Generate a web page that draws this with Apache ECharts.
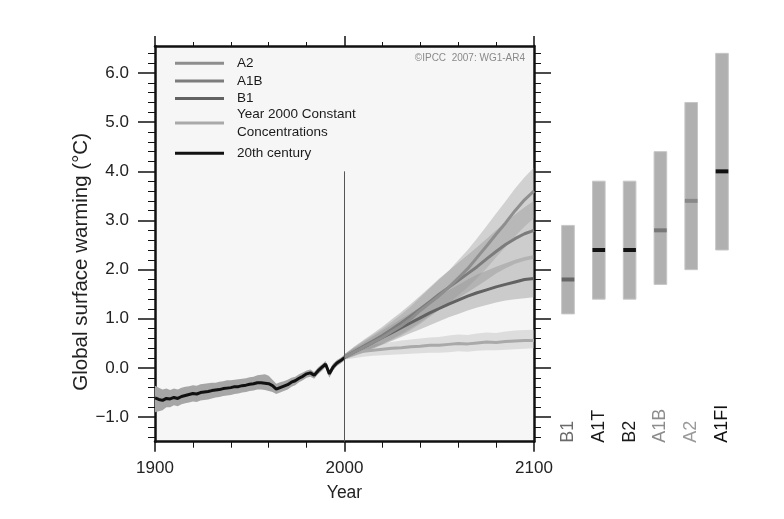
<!DOCTYPE html>
<html>
<head>
<meta charset="utf-8">
<script src="https://cdn.jsdelivr.net/npm/echarts@6/dist/echarts.min.js"></script>
<style>
  html, body { margin: 0; padding: 0; background: #ffffff; }
  #chart { width: 784px; height: 519px; }
</style>
</head>
<body>
<div id="chart"></div>
<script>
// ---------------- data ----------------
const years20 = [1900,1902,1904,1906,1908,1910,1912,1914,1916,1918,
  1920,1922,1924,1926,1928,1930,1932,1934,1936,1938,
  1940,1942,1944,1946,1948,1950,1952,1954,1956,1958,
  1960,1962,1964,1966,1968,1970,1972,1974,1976,1978,
  1980,1982,1984,1986,1988,1990,1992,1994,1996,1998,2000];
const century20 = [-0.61,-0.64,-0.66,-0.62,-0.63,-0.60,-0.62,-0.58,-0.56,-0.54,
  -0.52,-0.53,-0.50,-0.49,-0.48,-0.46,-0.45,-0.44,-0.42,-0.41,
  -0.40,-0.38,-0.38,-0.36,-0.35,-0.33,-0.32,-0.30,-0.30,-0.31,
  -0.32,-0.36,-0.43,-0.40,-0.37,-0.34,-0.29,-0.26,-0.21,-0.17,
  -0.12,-0.10,-0.15,-0.06,0.01,0.08,-0.12,0.02,0.10,0.15,0.21];
const century20Hi = [-0.36,-0.40,-0.44,-0.42,-0.45,-0.42,-0.44,-0.40,-0.38,-0.37,
  -0.35,-0.36,-0.33,-0.32,-0.31,-0.30,-0.30,-0.28,-0.27,-0.25,
  -0.25,-0.24,-0.23,-0.22,-0.21,-0.19,-0.18,-0.15,-0.14,-0.13,
  -0.16,-0.24,-0.32,-0.29,-0.27,-0.24,-0.20,-0.18,-0.13,-0.09,
  -0.05,-0.03,-0.08,0.01,0.07,0.14,-0.04,0.09,0.16,0.21,0.27];
const century20Lo = [-0.90,-0.88,-0.86,-0.80,-0.80,-0.76,-0.78,-0.74,-0.72,-0.70,
  -0.68,-0.69,-0.66,-0.65,-0.64,-0.62,-0.60,-0.59,-0.57,-0.56,
  -0.55,-0.53,-0.52,-0.50,-0.49,-0.47,-0.46,-0.44,-0.44,-0.45,
  -0.47,-0.49,-0.53,-0.50,-0.47,-0.44,-0.38,-0.35,-0.29,-0.25,
  -0.20,-0.18,-0.22,-0.13,-0.06,0.02,-0.20,-0.05,0.04,0.09,0.15];

const futureYears = [2000,2005,2010,2015,2020,2025,2030,2035,2040,2045,2050,
  2055,2060,2065,2070,2075,2080,2085,2090,2095,2100];

const a2    = [0.22,0.32,0.42,0.52,0.62,0.74,0.86,1.00,1.17,1.32,1.47,1.64,1.83,2.02,2.25,2.48,2.72,2.95,3.20,3.42,3.60];
const a2Hi  = [0.28,0.42,0.55,0.67,0.80,0.94,1.09,1.25,1.44,1.62,1.80,1.98,2.19,2.40,2.64,2.89,3.14,3.39,3.65,3.88,4.08];
const a2Lo  = [0.18,0.26,0.33,0.40,0.48,0.57,0.66,0.77,0.90,1.04,1.18,1.32,1.48,1.64,1.83,2.03,2.25,2.46,2.68,2.88,3.05];

const a1b   = [0.22,0.33,0.44,0.55,0.66,0.79,0.92,1.06,1.20,1.35,1.50,1.64,1.78,1.92,2.06,2.22,2.37,2.51,2.63,2.73,2.80];
const a1bHi = [0.28,0.43,0.57,0.70,0.84,0.99,1.14,1.30,1.47,1.64,1.82,1.98,2.14,2.30,2.46,2.63,2.80,2.96,3.12,3.27,3.40];
const a1bLo = [0.17,0.25,0.33,0.41,0.49,0.59,0.69,0.81,0.93,1.06,1.19,1.30,1.42,1.54,1.66,1.79,1.92,2.03,2.12,2.18,2.22];

const b1    = [0.22,0.32,0.42,0.52,0.62,0.72,0.82,0.92,1.02,1.12,1.21,1.30,1.38,1.46,1.53,1.59,1.65,1.70,1.75,1.80,1.82];
const b1Hi  = [0.28,0.40,0.52,0.64,0.76,0.88,1.00,1.12,1.24,1.36,1.47,1.58,1.69,1.80,1.90,1.98,2.06,2.13,2.20,2.26,2.30];
const b1Lo  = [0.17,0.24,0.31,0.39,0.47,0.55,0.63,0.71,0.79,0.87,0.95,1.03,1.10,1.17,1.23,1.28,1.33,1.37,1.40,1.42,1.44];

const commit   = [0.22,0.30,0.34,0.36,0.38,0.40,0.41,0.43,0.44,0.46,0.46,0.48,0.50,0.49,0.51,0.53,0.52,0.54,0.55,0.56,0.56];
const commitHi = [0.28,0.40,0.45,0.48,0.50,0.53,0.56,0.58,0.60,0.62,0.63,0.66,0.68,0.67,0.70,0.72,0.71,0.74,0.76,0.77,0.78];
const commitLo = [0.17,0.20,0.23,0.25,0.26,0.27,0.28,0.29,0.30,0.31,0.31,0.32,0.34,0.33,0.35,0.36,0.36,0.37,0.38,0.39,0.40];

const dividerYear = 2000;
const dividerTop = 4.0;

const scenarios = ['B1','A1T','B2','A1B','A2','A1FI'];
const bestEst   = [1.8, 2.4, 2.4, 2.8, 3.4, 4.0];
const likelyLo  = [1.1, 1.4, 1.4, 1.7, 2.0, 2.4];
const likelyHi  = [2.9, 3.8, 3.8, 4.4, 5.4, 6.4];

const yMajor = [-1,0,1,2,3,4,5,6];
const yMinor = [-1.4,-1.2,-0.8,-0.6,-0.4,-0.2,0.2,0.4,0.6,0.8,1.2,1.4,1.6,1.8,2.2,2.4,2.6,2.8,
  3.2,3.4,3.6,3.8,4.2,4.4,4.6,4.8,5.2,5.4,5.6,5.8,6.2,6.4];
const yMin = -1.5, yMax = 6.55;

// ---------------- styles ----------------
const FONT = '"Liberation Sans", Arial, Helvetica, sans-serif';
const markerColors = ['#666666','#111111','#111111','#777777','#888888','#111111'];
const labelColors  = ['#6a6a6a','#1a1a1a','#1a1a1a','#8c8c8c','#9a9a9a','#111111'];

function pairs(xs, ys) { return xs.map((x, i) => [x, ys[i]]); }

function band(name, xs, lo, hi, fill, z) {
  return {
    name: name, type: 'custom', xAxisIndex: 0, yAxisIndex: 0, silent: true, z: z,
    clip: true,
    data: xs.map((x, i) => [x, lo[i], hi[i]]),
    encode: { x: 0, y: [1, 2] },
    renderItem: function (params, api) {
      if (params.dataIndex !== 0) return null;
      const pts = [];
      for (let i = 0; i < xs.length; i++) pts.push(api.coord([xs[i], hi[i]]));
      for (let i = xs.length - 1; i >= 0; i--) pts.push(api.coord([xs[i], lo[i]]));
      return { type: 'polygon', shape: { points: pts }, style: { fill: fill } };
    }
  };
}

function line(name, xs, ys, color, z) {
  return {
    name: name, type: 'line', xAxisIndex: 0, yAxisIndex: 0,
    data: pairs(xs, ys), showSymbol: false, symbol: 'none', color: color,
    lineStyle: { color: color, width: 3 }, z: z, silent: true
  };
}

const tickFmt = v => (v < 0 ? '\u2212' + Math.abs(v).toFixed(1) : v.toFixed(1));

const chart = echarts.init(document.getElementById('chart'), null, { renderer: 'canvas' });

const option = {
  animation: false,
  backgroundColor: '#ffffff',
  textStyle: { fontFamily: FONT },
  grid: [
    { left: 155, top: 46, width: 379, height: 395.7, show: true, backgroundColor: '#f6f6f6', borderWidth: 0, outerBoundsMode: 'none' },
    { left: 552.6, top: 46, width: 184.8, height: 395.7, outerBoundsMode: 'none' }
  ],
  legend: [
    {
      orient: 'vertical', left: 175, top: 54.5, padding: 0, itemGap: 0,
      itemWidth: 49, itemHeight: 3, icon: 'rect', selectedMode: false,
      textStyle: { fontSize: 13.5, lineHeight: 17.6, color: '#1a1a1a', fontFamily: FONT, padding: [0, 0, 0, 8] },
      formatter: n => (n === 'Year 2000 Constant Concentrations' ? 'Year 2000 Constant\nConcentrations' : n),
      data: ['A2', 'A1B', 'B1',
        { name: 'Year 2000 Constant Concentrations', textStyle: { padding: [0, 0, -17.6, 8] } }]
    },
    {
      orient: 'vertical', left: 175, top: 144.5, padding: 0, itemGap: 0,
      itemWidth: 49, itemHeight: 3, icon: 'rect', selectedMode: false,
      textStyle: { fontSize: 13.5, lineHeight: 17.6, color: '#1a1a1a', fontFamily: FONT, padding: [0, 0, 0, 8] },
      data: ['20th century']
    }
  ],
  xAxis: [
    {
      gridIndex: 0, type: 'value', position: 'bottom', min: 1900, max: 2100, interval: 100,
      axisLine: { show: true, onZero: false, lineStyle: { color: '#111', width: 2.5 } },
      axisTick: { show: true, length: 10, lineStyle: { color: '#111', width: 1.5 } },
      minorTick: { show: true, splitNumber: 5, length: 6, lineStyle: { color: '#111', width: 1 } },
      axisLabel: { fontSize: 17, color: '#222', margin: 18, formatter: v => String(v) },
      splitLine: { show: false },
      name: 'Year', nameLocation: 'middle', nameGap: 42,
      nameTextStyle: { fontSize: 17.5, color: '#222' }
    },
    {
      gridIndex: 0, type: 'value', position: 'top', min: 1900, max: 2100, interval: 100,
      axisLine: { show: true, onZero: false, lineStyle: { color: '#111', width: 2.5 } },
      axisTick: { show: true, length: 10, lineStyle: { color: '#111', width: 1.5 } },
      minorTick: { show: true, splitNumber: 5, length: 4, lineStyle: { color: '#111', width: 1 } },
      axisLabel: { show: false },
      splitLine: { show: false }
    },
    {
      gridIndex: 1, type: 'category', position: 'bottom', data: scenarios, boundaryGap: true,
      axisLine: { show: false, onZero: false }, axisTick: { show: false }, splitLine: { show: false },
      axisLabel: {
        rotate: 90, align: 'left', verticalAlign: 'middle', margin: 1, interval: 0,
        fontSize: 18, color: (v, i) => labelColors[i]
      }
    }
  ],
  yAxis: [
    {
      gridIndex: 0, type: 'value', position: 'left', min: yMin, max: yMax,
      axisLine: { show: true, onZero: false, lineStyle: { color: '#111', width: 2.5 } },
      axisTick: { show: true, customValues: yMajor, length: 17, lineStyle: { color: '#111', width: 1.5 } },
      axisLabel: { customValues: yMajor, formatter: tickFmt, fontSize: 17, color: '#222', margin: 26 },
      splitLine: { show: false },
      name: 'Global surface warming (\u00b0C)', nameLocation: 'middle', nameGap: 61,
      nameTextStyle: { fontSize: 20.5, color: '#222', padding: [0, 36, 0, 0] }
    },
    {
      gridIndex: 0, type: 'value', position: 'left', min: yMin, max: yMax,
      axisLine: { show: false, onZero: false },
      axisTick: { show: true, customValues: yMinor, length: 7, lineStyle: { color: '#111', width: 1 } },
      axisLabel: { show: false }, splitLine: { show: false }
    },
    {
      gridIndex: 0, type: 'value', position: 'right', min: yMin, max: yMax,
      axisLine: { show: true, onZero: false, lineStyle: { color: '#111', width: 2.5 } },
      axisTick: { show: true, customValues: yMajor, length: 17, lineStyle: { color: '#111', width: 1.5 } },
      axisLabel: { show: false }, splitLine: { show: false }
    },
    {
      gridIndex: 0, type: 'value', position: 'right', min: yMin, max: yMax,
      axisLine: { show: false, onZero: false },
      axisTick: { show: true, customValues: yMinor, length: 7, lineStyle: { color: '#111', width: 1 } },
      axisLabel: { show: false }, splitLine: { show: false }
    },
    {
      gridIndex: 1, type: 'value', min: yMin, max: yMax, show: false
    }
  ],
  graphic: [
    {
      type: 'text', right: 259, top: 53, silent: true,
      style: { text: '\u00a9IPCC  2007: WG1-AR4', fontSize: 10, fill: '#8a8a8a', fontFamily: FONT }
    }
  ],
  series: [
    band('20th century range', years20, century20Lo, century20Hi, '#a6a6a6', 1),
    band('Year 2000 Constant range', futureYears, commitLo, commitHi, 'rgba(190,190,190,0.45)', 1),
    band('B1 range', futureYears, b1Lo, b1Hi, 'rgba(135,135,135,0.38)', 1),
    band('A1B range', futureYears, a1bLo, a1bHi, 'rgba(140,140,140,0.38)', 1),
    band('A2 range', futureYears, a2Lo, a2Hi, 'rgba(150,150,150,0.38)', 1),
    line('Year 2000 Constant Concentrations', futureYears, commit, '#a9a9a9', 3),
    line('B1', futureYears, b1, '#626262', 3),
    line('A1B', futureYears, a1b, '#7c7c7c', 3),
    line('A2', futureYears, a2, '#8e8e8e', 3),
    line('20th century', years20, century20, '#111111', 4),
    {
      name: 'divider', type: 'line', xAxisIndex: 0, yAxisIndex: 0, silent: true, z: 5,
      data: [[dividerYear, yMin], [dividerYear, dividerTop]], symbol: 'none',
      lineStyle: { color: '#555', width: 1 }
    },
    {
      name: 'Likely range', type: 'custom', xAxisIndex: 2, yAxisIndex: 4, silent: true,
      data: scenarios.map((s, i) => [s, likelyLo[i], likelyHi[i], bestEst[i]]),
      encode: { x: 0, y: [1, 2, 3] },
      renderItem: function (params, api) {
        const i = params.dataIndex;
        const top = api.coord([api.value(0), api.value(2)]);
        const bot = api.coord([api.value(0), api.value(1)]);
        const mid = api.coord([api.value(0), api.value(3)]);
        const w = api.size([1, 0])[0] * 0.41;
        return {
          type: 'group',
          children: [
            { type: 'rect', shape: { x: top[0] - w / 2, y: top[1], width: w, height: bot[1] - top[1] },
              style: { fill: '#b0b0b0', stroke: '#c6c6c6', lineWidth: 1 } },
            { type: 'rect', shape: { x: mid[0] - w / 2, y: mid[1] - 2, width: w, height: 4 },
              style: { fill: markerColors[i] } }
          ]
        };
      }
    }
  ]
};

chart.setOption(option);
</script>
</body>
</html>
